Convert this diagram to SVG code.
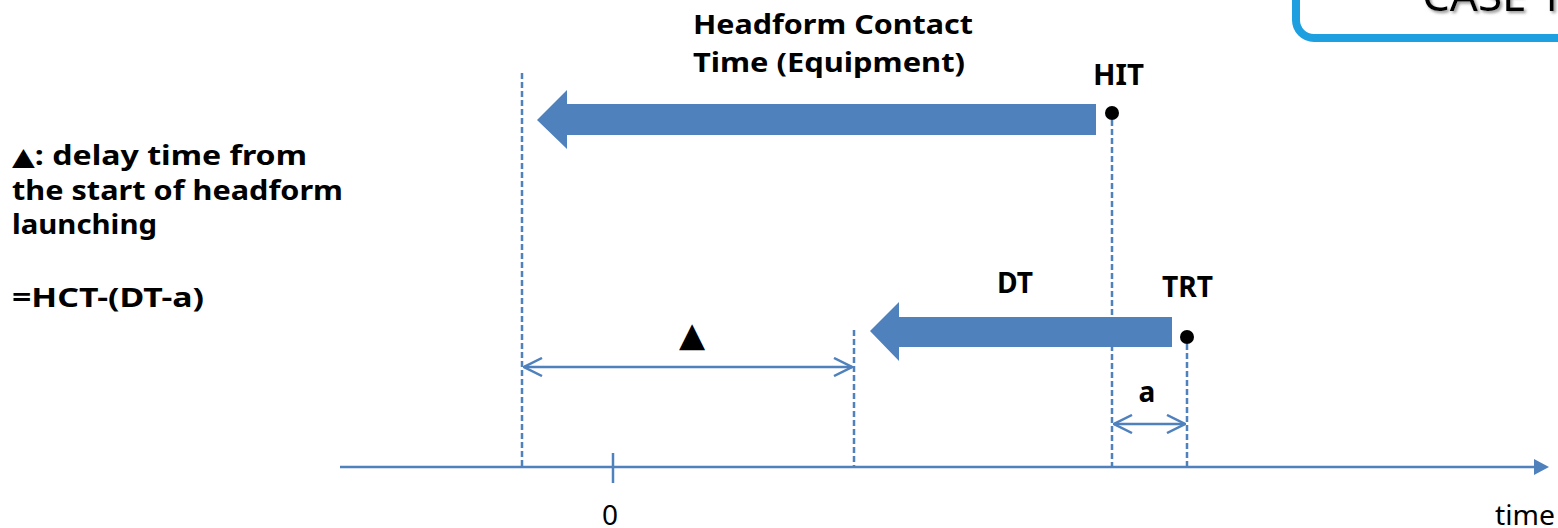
<svg xmlns="http://www.w3.org/2000/svg" width="1558" height="528" viewBox="0 0 1558 528">
<style>
.b{font-family:"Noto Sans","Open Sans","Liberation Sans",sans-serif;font-weight:bold;font-size:27px;fill:#000}
.r{font-family:"Noto Sans","Open Sans","Liberation Sans",sans-serif;font-size:28px;fill:#000}
.tri{font-family:"DejaVu Sans",sans-serif;font-weight:normal}
.dash{stroke:#4F81BD;stroke-width:2.5;stroke-dasharray:6 3;fill:none}
.ln{stroke:#4F81BD;stroke-width:2.5;fill:none}
.blk{fill:#4F81BD}
</style>
<defs>
<marker id="open" viewBox="0 0 20 20" refX="19" refY="10" markerWidth="20" markerHeight="20" markerUnits="userSpaceOnUse" orient="auto-start-reverse">
<path d="M1,1 L19,10 L1,19" fill="none" stroke="#4F81BD" stroke-width="2.5"/>
</marker>
<filter id="sh" x="-10%" y="-10%" width="130%" height="140%">
<feDropShadow dx="2" dy="2" stdDeviation="1.5" flood-color="#777" flood-opacity="0.8"/>
</filter>
</defs>
<rect width="1558" height="528" fill="#fff"/>

<g id="case-box">
<rect x="1296" y="-40" width="300" height="78" rx="18" fill="#fff" stroke="#1E9FDF" stroke-width="8"/>
<text class="r" x="1422" y="11" style="font-size:44px" filter="url(#sh)">CASE 1</text>
</g>

<g id="legend">
<text class="b" x="12" y="165" textLength="295" lengthAdjust="spacingAndGlyphs"><tspan class="tri" style="font-size:25px">▲</tspan>: delay time from</text>
<text class="b" x="12" y="200" textLength="331" lengthAdjust="spacingAndGlyphs">the start of headform</text>
<text class="b" x="12" y="234" textLength="145" lengthAdjust="spacingAndGlyphs">launching</text>
<text class="b" x="12" y="307" textLength="192" lengthAdjust="spacingAndGlyphs">=HCT-(DT-a)</text>
</g>

<g id="connectors">
<line class="dash" x1="522" y1="73" x2="522" y2="466"/>
<line class="dash" x1="854" y1="330" x2="854" y2="466"/>
<line class="dash" x1="1112" y1="120" x2="1112" y2="466"/>
<line class="dash" x1="1187" y1="344" x2="1187" y2="466"/>
<line class="ln" x1="524" y1="367" x2="852" y2="367" marker-start="url(#open)" marker-end="url(#open)"/>
<line class="ln" x1="1114" y1="424" x2="1185" y2="424" marker-start="url(#open)" marker-end="url(#open)"/>
<line class="ln" x1="340" y1="467" x2="1536" y2="467"/>
<polygon points="1549,467 1534,459 1534,475" fill="#4F81BD"/>
<line class="ln" x1="613" y1="453" x2="613" y2="483"/>
</g>

<g id="hct-arrow">
<polygon class="blk" points="537,120 567,90 567,104 1096,104 1096,135 567,135 567,149"/>
<text class="b" x="693" y="34" textLength="280" lengthAdjust="spacingAndGlyphs">Headform Contact</text>
<text class="b" x="693" y="72" textLength="272" lengthAdjust="spacingAndGlyphs">Time (Equipment)</text>
</g>

<g id="hit">
<circle cx="1112" cy="113" r="7" fill="#000"/>
<text class="b" x="1093" y="85" textLength="51" lengthAdjust="spacingAndGlyphs" style="font-size:28px">HIT</text>
</g>

<g id="dt-arrow">
<polygon class="blk" points="870,331 899,302 899,317 1172,317 1172,347 899,347 899,361"/>
<text class="b" x="997" y="293" textLength="36" lengthAdjust="spacingAndGlyphs" style="font-size:28px">DT</text>
</g>

<g id="trt">
<circle cx="1187" cy="337" r="7" fill="#000"/>
<text class="b" x="1162" y="297" textLength="51" lengthAdjust="spacingAndGlyphs" style="font-size:28px">TRT</text>
</g>

<g id="delta-label">
<text x="692" y="346" text-anchor="middle" style="font-family:'DejaVu Sans',sans-serif;font-size:34px;fill:#000">▲</text>
</g>

<g id="a-label">
<text class="b" x="1147" y="402" text-anchor="middle" style="font-size:28px">a</text>
</g>

<g id="axis-labels">
<text class="r" x="610" y="525" text-anchor="middle">0</text>
<text class="r" x="1495" y="525" textLength="60" lengthAdjust="spacingAndGlyphs">time</text>
</g>
</svg>
